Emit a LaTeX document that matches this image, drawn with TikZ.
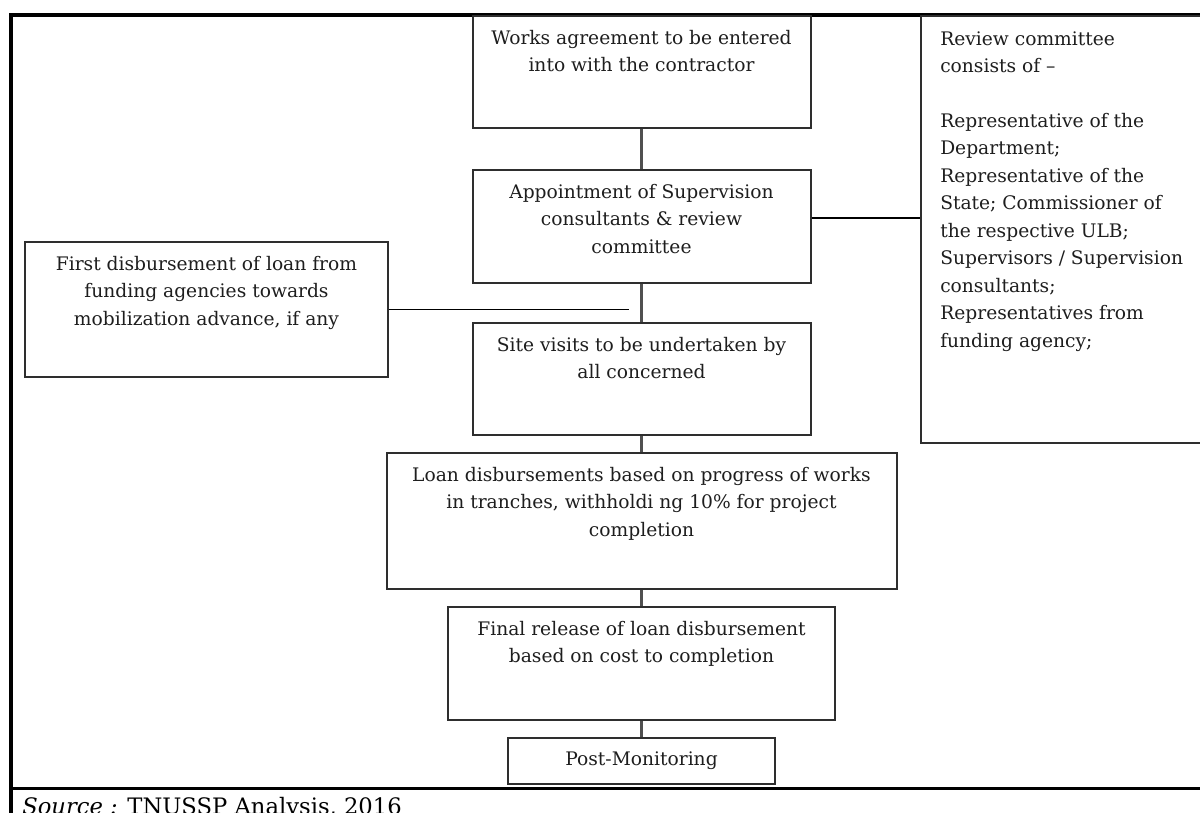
\documentclass[tikz,border=0pt]{standalone}
\usepackage{fontspec}
\setmainfont{DejaVu Serif}
\newdimen\px \px=0.75pt
\definecolor{txt}{HTML}{1E1E1E}
\definecolor{boxc}{HTML}{2E2E2E}
\definecolor{connc}{HTML}{505050}
\newcommand\boxfont{\fontsize{14pt}{20.6pt}\selectfont}
\begin{document}
\begin{tikzpicture}[x=0.75pt,y=-0.75pt,
  box/.style 2 args={draw=boxc, line width=1.5pt, inner sep=0pt, fill=white,
    minimum width=#1*0.75pt, minimum height=#2*0.75pt},
  toptext/.style={label={[anchor=north, yshift=-15*0.75pt, align=center, inner sep=0pt,
    font=\boxfont, text=txt]north:{#1}}},
  conn/.style={draw=connc, line width=2.2pt},
  side/.style={draw=black, line width=1.3pt},
  frame/.style={draw=black, line width=2.3pt}]
\clip (0,0) rectangle (1200,813);
\fill[white] (0,0) rectangle (1200,813);
% outer frame
\draw[frame] (1215,15) -- (11,15) -- (11,830);
\draw[frame] (11,788.5) -- (1215,788.5);
% boxes
\node[box={338}{112}, toptext={Works agreement to be entered\\into with the contractor}] (works) at (641.5,72) {};
\node[box={338}{113}, toptext={Appointment of Supervision\\consultants \& review\\committee}] (app) at (641.5,226.5) {};
\node[box={363}{135}, toptext={First disbursement of loan from\\funding agencies towards\\mobilization advance, if any}] (first) at (206.5,309.5) {};
\node[box={338}{112}, toptext={Site visits to be undertaken by\\all concerned}] (site) at (641.5,379) {};
\node[box={510}{136}, toptext={Loan disbursements based on progress of works\\in tranches, withholdi ng 10\% for project\\completion}] (loan) at (641.5,521) {};
\node[box={387}{113}, toptext={Final release of loan disbursement\\based on cost to completion}] (final) at (641.5,663.5) {};
\node[box={267}{46}, font=\boxfont, text=txt] (post) at (641.5,761) {Post-Monitoring};
\node[box={294}{427}, label={[anchor=north west, xshift=20*0.75pt, yshift=-16*0.75pt, align=left, inner sep=0pt, font=\boxfont, text=txt]north west:{Review committee\\consists of \textendash\\[20.6pt]Representative of the\\Department;\\Representative of the\\State; Commissioner of\\the respective ULB;\\Supervisors / Supervision\\consultants;\\Representatives from\\funding agency;}}] (rev) at (1068,229.5) {};
% connectors
\draw[conn] (works.south) -- (app.north);
\draw[conn] (app.south) -- (site.north);
\draw[conn] (site.south) -- (loan.north);
\draw[conn] (loan.south) -- (final.north);
\draw[conn] (final.south) -- (post.north);
\coordinate (fe) at (629,309.5);
\draw[side] (first.east) -- (fe);
\coordinate (rl) at (900,218);
\draw[side] (app.east |- rl) -- (rev.west |- rl);
% source
\node[anchor=base west, inner sep=0pt, font=\fontsize{17pt}{20pt}\selectfont, text=black] (src) at (22,814) {\textit{Source :} TNUSSP Analysis, 2016};
\end{tikzpicture}
\end{document}
